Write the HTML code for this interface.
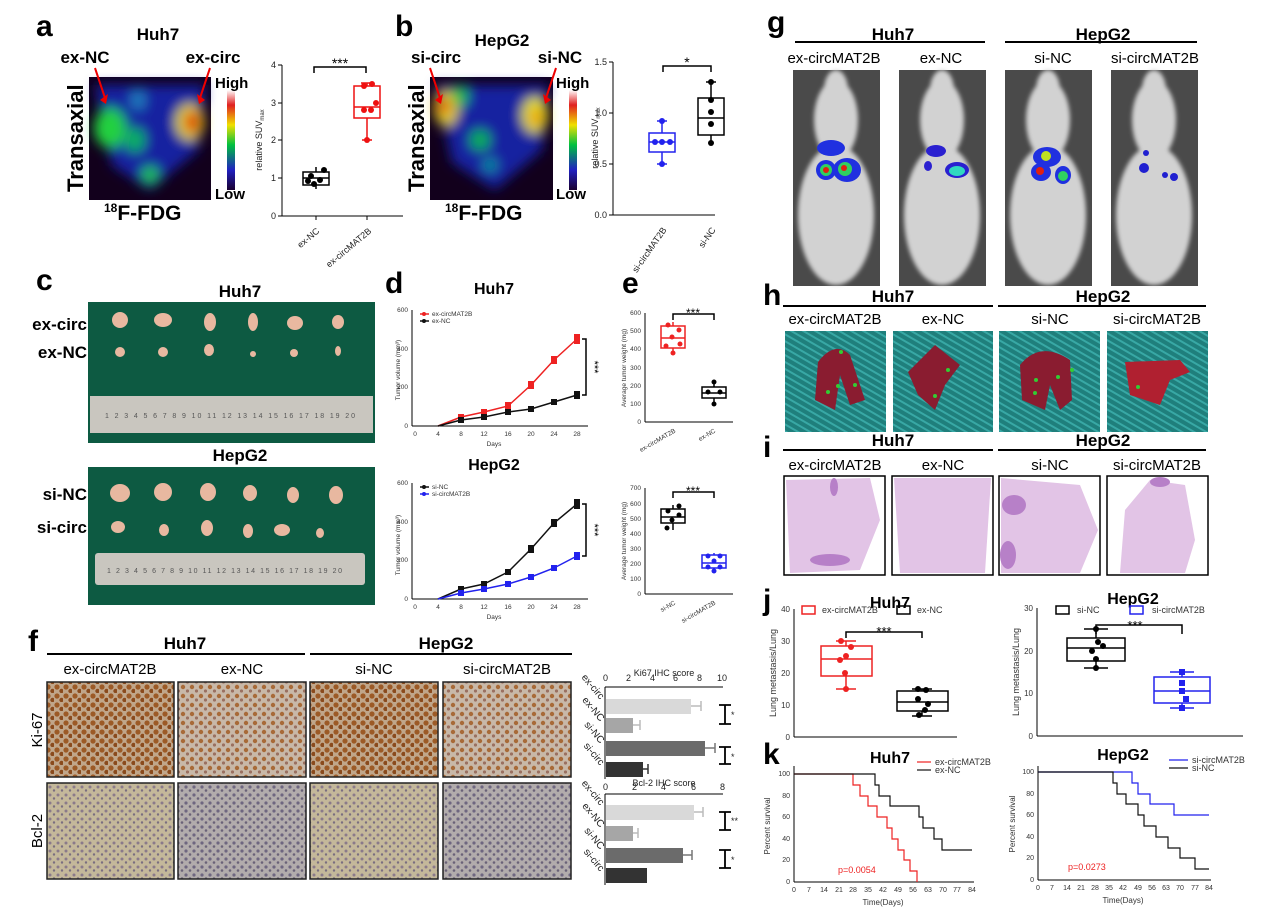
<!DOCTYPE html>
<html><head><meta charset="utf-8"><style>
html,body{margin:0;padding:0;background:#fff;}
svg{display:block;font-family:"Liberation Sans",Arial,sans-serif;}
.b{font-weight:bold;}
</style></head><body>
<svg width="1269" height="917" viewBox="0 0 1269 917" xmlns="http://www.w3.org/2000/svg">
<defs>
<filter id="bl" x="-20%" y="-20%" width="140%" height="140%"><feGaussianBlur stdDeviation="6"/></filter>
<filter id="bl2"><feGaussianBlur stdDeviation="2"/></filter>
<linearGradient id="cb" x1="0" y1="1" x2="0" y2="0">
<stop offset="0" stop-color="#1a0030"/><stop offset="0.2" stop-color="#2020c0"/><stop offset="0.45" stop-color="#00c040"/><stop offset="0.65" stop-color="#f0e000"/><stop offset="0.85" stop-color="#e02020"/><stop offset="1" stop-color="#fff"/></linearGradient>
<pattern id="ki" width="9" height="9" patternUnits="userSpaceOnUse"><rect width="9" height="9" fill="#c0a68a"/><circle cx="3" cy="3" r="2.6" fill="#9c5a26"/><circle cx="7.5" cy="7" r="2.2" fill="#8a4a1c"/></pattern>
<pattern id="kil" width="9" height="9" patternUnits="userSpaceOnUse"><rect width="9" height="9" fill="#c8b8a8"/><circle cx="3" cy="3" r="2.2" fill="#a86a38"/><circle cx="7.5" cy="7" r="1.6" fill="#9a7060"/></pattern>
<pattern id="bc" width="8" height="8" patternUnits="userSpaceOnUse"><rect width="8" height="8" fill="#c4b89a"/><circle cx="2" cy="3" r="1.5" fill="#8a7a8a"/><circle cx="6" cy="6.5" r="1.2" fill="#7a6e80"/></pattern>
<pattern id="bcb" width="8" height="8" patternUnits="userSpaceOnUse"><rect width="8" height="8" fill="#b2acac"/><circle cx="2" cy="3" r="1.6" fill="#6e6680"/><circle cx="6" cy="6.5" r="1.3" fill="#6a6278"/></pattern>
<pattern id="cloth" width="6" height="6" patternUnits="userSpaceOnUse" patternTransform="rotate(-60)"><rect width="6" height="6" fill="#1f7f7c"/><rect width="2" height="6" fill="#38a8a5"/></pattern>
</defs>

<!-- ===== a ===== -->
<text x="36" y="36" font-size="30" class="b">a</text>
<text x="158" y="40" font-size="17" class="b" text-anchor="middle">Huh7</text>
<text x="85" y="63" font-size="17" class="b" text-anchor="middle">ex-NC</text>
<text x="213" y="63" font-size="17" class="b" text-anchor="middle">ex-circ</text>
<g>
<rect x="89" y="77" width="122" height="123" fill="#12001c"/>
<g filter="url(#bl)">
<path d="M95 85 L205 85 L198 150 L150 190 L112 165 Z" fill="#1420a0"/>
<ellipse cx="110" cy="128" rx="16" ry="20" fill="#20d040"/>
<ellipse cx="135" cy="140" rx="10" ry="12" fill="#10b060"/>
<ellipse cx="150" cy="175" rx="9" ry="9" fill="#20c050"/>
<ellipse cx="138" cy="100" rx="7" ry="10" fill="#2080c0"/>
<ellipse cx="190" cy="122" rx="14" ry="18" fill="#e0e020"/>
<ellipse cx="192" cy="122" rx="8" ry="12" fill="#e02010"/>
</g></g>
<line x1="95" y1="68" x2="105" y2="98" stroke="#e00" stroke-width="2"/><path d="M100 100 L106 104 L108 94 Z" fill="#e00"/>
<line x1="210" y1="68" x2="200" y2="98" stroke="#e00" stroke-width="2"/><path d="M205 100 L199 104 L197 94 Z" fill="#e00"/>
<text x="83" y="192" font-size="22" class="b" transform="rotate(-90 83 192)" >Transaxial</text>
<rect x="227" y="90" width="8" height="100" fill="url(#cb)"/>
<text x="215" y="88" font-size="15" class="b">High</text>
<text x="215" y="199" font-size="15" class="b">Low</text>
<text x="104" y="220" font-size="21" class="b"><tspan font-size="12" dy="-8">18</tspan><tspan dy="8">F-FDG</tspan></text>
<!-- a box -->
<g font-size="9" fill="#222">
<line x1="282" y1="65" x2="282" y2="216" stroke="#000"/>
<line x1="282" y1="216" x2="403" y2="216" stroke="#000"/>
<g stroke="#000"><line x1="278" y1="65" x2="282" y2="65"/><line x1="278" y1="103" x2="282" y2="103"/><line x1="278" y1="140" x2="282" y2="140"/><line x1="278" y1="178" x2="282" y2="178"/><line x1="278" y1="216" x2="282" y2="216"/><line x1="316" y1="216" x2="316" y2="220"/><line x1="367" y1="216" x2="367" y2="220"/></g>
<text x="276" y="68" text-anchor="end">4</text><text x="276" y="106" text-anchor="end">3</text><text x="276" y="143" text-anchor="end">2</text><text x="276" y="181" text-anchor="end">1</text><text x="276" y="219" text-anchor="end">0</text>
<text x="262" y="140" font-size="9" transform="rotate(-90 262 140)" text-anchor="middle">relative SUV<tspan font-size="6" dy="2">max</tspan></text>
<text x="320" y="232" transform="rotate(-40 320 232)" text-anchor="end">ex-NC</text>
<text x="372" y="232" transform="rotate(-40 372 232)" text-anchor="end">ex-circMAT2B</text>
</g>
<g stroke="#000" stroke-width="1.5" fill="none"><rect x="303" y="172" width="26" height="13"/><line x1="303" y1="178" x2="329" y2="178"/><line x1="316" y1="167" x2="316" y2="172"/><line x1="316" y1="185" x2="316" y2="189"/></g>
<g fill="#000"><circle cx="311" cy="176" r="3"/><circle cx="320" cy="180" r="3"/><circle cx="314" cy="184" r="3"/><circle cx="324" cy="170" r="3"/><circle cx="308" cy="181" r="3"/></g>
<g stroke="#e11" stroke-width="1.5" fill="none"><rect x="354" y="86" width="26" height="32"/><line x1="354" y1="107" x2="380" y2="107"/><line x1="367" y1="83" x2="367" y2="86"/><line x1="367" y1="118" x2="367" y2="140"/><line x1="362" y1="140" x2="372" y2="140"/><line x1="361" y1="83" x2="373" y2="83"/></g>
<g fill="#e11"><circle cx="364" cy="86" r="3"/><circle cx="372" cy="84" r="3"/><circle cx="364" cy="110" r="3"/><circle cx="371" cy="110" r="3"/><circle cx="376" cy="103" r="3"/><circle cx="367" cy="140" r="3"/></g>
<path d="M314 73 V67 H366 V73" stroke="#000" stroke-width="1.5" fill="none"/>
<text x="340" y="68" font-size="14" text-anchor="middle">***</text>

<!-- ===== b ===== -->
<text x="395" y="36" font-size="30" class="b">b</text>
<text x="502" y="46" font-size="17" class="b" text-anchor="middle">HepG2</text>
<text x="436" y="63" font-size="17" class="b" text-anchor="middle">si-circ</text>
<text x="560" y="63" font-size="17" class="b" text-anchor="middle">si-NC</text>
<rect x="430" y="77" width="123" height="123" fill="#12001c"/>
<g filter="url(#bl)">
<path d="M436 85 L548 85 L542 150 L495 190 L452 162 Z" fill="#1420a0"/>
<ellipse cx="446" cy="108" rx="12" ry="18" fill="#e0d020"/>
<ellipse cx="444" cy="106" rx="6" ry="8" fill="#e02010"/>
<ellipse cx="460" cy="96" rx="8" ry="10" fill="#20c040"/>
<ellipse cx="480" cy="140" rx="10" ry="10" fill="#10b050"/>
<ellipse cx="490" cy="165" rx="7" ry="7" fill="#1090a0"/>
<ellipse cx="535" cy="115" rx="13" ry="18" fill="#e0e020"/>
<ellipse cx="536" cy="117" rx="5" ry="9" fill="#f08010"/>
</g>
<line x1="430" y1="68" x2="440" y2="98" stroke="#e00" stroke-width="2"/><path d="M435 100 L441 104 L443 94 Z" fill="#e00"/>
<line x1="556" y1="68" x2="546" y2="98" stroke="#e00" stroke-width="2"/><path d="M551 100 L545 104 L543 94 Z" fill="#e00"/>
<text x="424" y="192" font-size="22" class="b" transform="rotate(-90 424 192)">Transaxial</text>
<rect x="569" y="90" width="8" height="100" fill="url(#cb)"/>
<text x="556" y="88" font-size="15" class="b">High</text>
<text x="556" y="199" font-size="15" class="b">Low</text>
<text x="445" y="220" font-size="21" class="b"><tspan font-size="12" dy="-8">18</tspan><tspan dy="8">F-FDG</tspan></text>
<g font-size="9" fill="#222">
<line x1="613" y1="62" x2="613" y2="215" stroke="#000"/><line x1="613" y1="215" x2="715" y2="215" stroke="#000"/>
<g stroke="#000"><line x1="609" y1="62" x2="613" y2="62"/><line x1="609" y1="113" x2="613" y2="113"/><line x1="609" y1="164" x2="613" y2="164"/><line x1="609" y1="215" x2="613" y2="215"/></g>
<text x="607" y="65" text-anchor="end">1.5</text><text x="607" y="116" text-anchor="end">1.0</text><text x="607" y="167" text-anchor="end">0.5</text><text x="607" y="218" text-anchor="end">0.0</text>
<text x="598" y="138" transform="rotate(-90 598 138)" text-anchor="middle">relative SUV<tspan font-size="6" dy="2">max</tspan></text>
<text x="667" y="230" transform="rotate(-55 667 230)" text-anchor="end">si-circMAT2B</text>
<text x="716" y="230" transform="rotate(-55 716 230)" text-anchor="end">si-NC</text>
</g>
<g stroke="#22e" stroke-width="1.5" fill="none"><rect x="649" y="133" width="26" height="19"/><line x1="649" y1="142" x2="675" y2="142"/><line x1="662" y1="121" x2="662" y2="133"/><line x1="662" y1="152" x2="662" y2="164"/><line x1="657" y1="121" x2="667" y2="121"/><line x1="657" y1="164" x2="667" y2="164"/></g>
<g fill="#22e"><circle cx="655" cy="142" r="3"/><circle cx="662" cy="142" r="3"/><circle cx="670" cy="142" r="3"/><circle cx="662" cy="121" r="3"/><circle cx="662" cy="164" r="3"/></g>
<g stroke="#000" stroke-width="1.5" fill="none"><rect x="698" y="98" width="26" height="37"/><line x1="698" y1="118" x2="724" y2="118"/><line x1="711" y1="82" x2="711" y2="98"/><line x1="711" y1="135" x2="711" y2="143"/><line x1="706" y1="82" x2="716" y2="82"/></g>
<g fill="#000"><circle cx="711" cy="82" r="3"/><circle cx="711" cy="100" r="3"/><circle cx="711" cy="112" r="3"/><circle cx="711" cy="124" r="3"/><circle cx="711" cy="143" r="3"/></g>
<path d="M663 72 V66 H711 V72" stroke="#000" stroke-width="1.5" fill="none"/>
<text x="687" y="67" font-size="14" text-anchor="middle">*</text>

<!-- ===== g ===== -->
<text x="767" y="32" font-size="30" class="b">g</text>
<line x1="795" y1="42" x2="985" y2="42" stroke="#000" stroke-width="2"/>
<line x1="1005" y1="42" x2="1197" y2="42" stroke="#000" stroke-width="2"/>
<text x="893" y="40" font-size="17" class="b" text-anchor="middle">Huh7</text>
<text x="1103" y="40" font-size="17" class="b" text-anchor="middle">HepG2</text>
<g font-size="15" text-anchor="middle">
<text x="834" y="63">ex-circMAT2B</text><text x="941" y="63">ex-NC</text><text x="1053" y="63">si-NC</text><text x="1155" y="63">si-circMAT2B</text></g>
<g id="mice">
<rect x="793" y="70" width="87" height="216" fill="#4a4a4a"/>
<rect x="899" y="70" width="87" height="216" fill="#4a4a4a"/>
<rect x="1005" y="70" width="87" height="216" fill="#4a4a4a"/>
<rect x="1111" y="70" width="87" height="216" fill="#4a4a4a"/>
<g fill="#d2d2d2" filter="url(#bl2)">
<ellipse cx="836" cy="215" rx="38" ry="70"/><ellipse cx="836" cy="120" rx="22" ry="40"/><ellipse cx="836" cy="90" rx="12" ry="20"/>
<ellipse cx="942" cy="215" rx="38" ry="70"/><ellipse cx="942" cy="120" rx="22" ry="40"/><ellipse cx="942" cy="90" rx="12" ry="20"/>
<ellipse cx="1048" cy="215" rx="38" ry="70"/><ellipse cx="1048" cy="120" rx="22" ry="40"/><ellipse cx="1048" cy="90" rx="12" ry="20"/>
<ellipse cx="1154" cy="215" rx="38" ry="70"/><ellipse cx="1154" cy="120" rx="22" ry="40"/><ellipse cx="1154" cy="90" rx="12" ry="20"/>
</g>
<g>
<ellipse cx="831" cy="148" rx="14" ry="8" fill="#2030e0"/><ellipse cx="826" cy="170" rx="10" ry="10" fill="#2030e0"/><ellipse cx="847" cy="170" rx="14" ry="12" fill="#2030e0"/>
<circle cx="826" cy="170" r="6" fill="#30d060"/><circle cx="826" cy="170" r="3" fill="#e02010"/><circle cx="845" cy="169" r="7" fill="#30d060"/><circle cx="844" cy="168" r="3" fill="#e02010"/>
<ellipse cx="936" cy="151" rx="10" ry="6" fill="#2a20d0"/><ellipse cx="957" cy="170" rx="12" ry="8" fill="#2a20d0"/><ellipse cx="957" cy="171" rx="8" ry="5" fill="#30d8c0"/><ellipse cx="928" cy="166" rx="4" ry="5" fill="#2a20d0"/>
<ellipse cx="1047" cy="157" rx="14" ry="10" fill="#2030e0"/><ellipse cx="1041" cy="172" rx="10" ry="9" fill="#2030e0"/><ellipse cx="1063" cy="175" rx="8" ry="9" fill="#2030e0"/>
<circle cx="1046" cy="156" r="5" fill="#c0e020"/><circle cx="1040" cy="171" r="4" fill="#e02010"/><circle cx="1063" cy="176" r="5" fill="#30d060"/>
<circle cx="1144" cy="168" r="5" fill="#2020d0"/><circle cx="1146" cy="153" r="3" fill="#2020d0"/><circle cx="1165" cy="175" r="3" fill="#2020d0"/><circle cx="1174" cy="177" r="4" fill="#2020d0"/>
</g></g>

<!-- ===== h ===== -->
<text x="763" y="305" font-size="30" class="b">h</text>
<line x1="783" y1="306" x2="993" y2="306" stroke="#000" stroke-width="2"/>
<line x1="998" y1="306" x2="1206" y2="306" stroke="#000" stroke-width="2"/>
<text x="893" y="302" font-size="17" class="b" text-anchor="middle">Huh7</text>
<text x="1103" y="302" font-size="17" class="b" text-anchor="middle">HepG2</text>
<g font-size="15" text-anchor="middle">
<text x="835" y="324">ex-circMAT2B</text><text x="943" y="324">ex-NC</text><text x="1050" y="324">si-NC</text><text x="1157" y="324">si-circMAT2B</text></g>
<rect x="785" y="331" width="101" height="101" fill="url(#cloth)"/>
<rect x="893" y="331" width="100" height="101" fill="url(#cloth)"/>
<rect x="999" y="331" width="101" height="101" fill="url(#cloth)"/>
<rect x="1107" y="331" width="101" height="101" fill="url(#cloth)"/>
<g fill="#8a1c30">
<path d="M818 362 Q835 340 850 355 L865 400 L850 405 L840 375 L835 410 L815 400 Z"/>
<path d="M908 372 L935 345 L960 365 L945 385 L935 410 L918 395 Z"/>
<path d="M1020 365 Q1040 340 1070 360 L1072 400 L1060 410 L1050 385 L1045 410 L1022 400 Z"/>
<path d="M1125 362 L1180 360 L1190 372 L1170 380 L1160 405 L1130 395 Z" fill="#b02030"/>
</g>
<g fill="#3c3"><circle cx="841" cy="352" r="2"/><circle cx="838" cy="386" r="2"/><circle cx="855" cy="385" r="2"/><circle cx="828" cy="392" r="2"/><circle cx="948" cy="370" r="2"/><circle cx="935" cy="396" r="2"/><circle cx="1036" cy="380" r="2"/><circle cx="1058" cy="377" r="2"/><circle cx="1072" cy="370" r="2"/><circle cx="1035" cy="393" r="2"/><circle cx="1138" cy="387" r="2"/></g>

<!-- ===== i ===== -->
<text x="763" y="457" font-size="30" class="b">i</text>
<line x1="783" y1="450" x2="993" y2="450" stroke="#000" stroke-width="2"/>
<line x1="998" y1="450" x2="1206" y2="450" stroke="#000" stroke-width="2"/>
<text x="893" y="446" font-size="17" class="b" text-anchor="middle">Huh7</text>
<text x="1103" y="446" font-size="17" class="b" text-anchor="middle">HepG2</text>
<g font-size="15" text-anchor="middle">
<text x="835" y="470">ex-circMAT2B</text><text x="943" y="470">ex-NC</text><text x="1050" y="470">si-NC</text><text x="1157" y="470">si-circMAT2B</text></g>
<g stroke="#000" stroke-width="1.5">
<rect x="784" y="476" width="101" height="99" fill="#fff"/>
<rect x="892" y="476" width="101" height="99" fill="#fff"/>
<rect x="999" y="476" width="101" height="99" fill="#fff"/>
<rect x="1107" y="476" width="101" height="99" fill="#fff"/></g>
<g fill="#e2c4e6">
<path d="M786 480 L870 478 L880 520 L860 570 L790 573 Z"/>
<path d="M894 478 L991 478 L985 573 L900 573 Z"/>
<path d="M1001 478 L1080 485 L1098 530 L1080 573 L1001 573 Z"/>
<path d="M1150 480 L1185 485 L1195 540 L1185 573 L1120 573 L1125 510 Z"/>
</g>
<g fill="#b780c8"><ellipse cx="834" cy="487" rx="4" ry="9"/><ellipse cx="1014" cy="505" rx="12" ry="10"/><ellipse cx="1008" cy="555" rx="8" ry="14"/><ellipse cx="1160" cy="482" rx="10" ry="5"/><ellipse cx="830" cy="560" rx="20" ry="6"/></g>

<!-- ===== c ===== -->
<text x="36" y="290" font-size="30" class="b">c</text>
<text x="240" y="297" font-size="17" class="b" text-anchor="middle">Huh7</text>
<text x="240" y="461" font-size="17" class="b" text-anchor="middle">HepG2</text>
<g font-size="17" class="b" text-anchor="end">
<text x="87" y="330">ex-circ</text><text x="87" y="358">ex-NC</text><text x="87" y="500">si-NC</text><text x="87" y="533">si-circ</text></g>
<rect x="88" y="302" width="287" height="141" fill="#0d5a42"/>
<rect x="90" y="396" width="283" height="37" fill="#c9c6bf"/>
<rect x="88" y="467" width="287" height="138" fill="#0d5a42"/>
<rect x="95" y="553" width="270" height="32" fill="#c9c6bf" rx="3"/>
<g font-size="7" fill="#555"><text x="105" y="418" textLength="250" lengthAdjust="spacing">1 2 3 4 5 6 7 8 9 10 11 12 13 14 15 16 17 18 19 20</text>
<text x="107" y="573" textLength="235" lengthAdjust="spacing">1 2 3 4 5 6 7 8 9 10 11 12 13 14 15 16 17 18 19 20</text></g>
<g fill="#e8b8a0">
<ellipse cx="120" cy="320" rx="8" ry="8"/><ellipse cx="163" cy="320" rx="9" ry="7"/><ellipse cx="210" cy="322" rx="6" ry="9"/><ellipse cx="253" cy="322" rx="5" ry="9"/><ellipse cx="295" cy="323" rx="8" ry="7"/><ellipse cx="338" cy="322" rx="6" ry="7"/>
<ellipse cx="120" cy="352" rx="5" ry="5"/><ellipse cx="163" cy="352" rx="5" ry="5"/><ellipse cx="209" cy="350" rx="5" ry="6"/><ellipse cx="253" cy="354" rx="3" ry="3"/><ellipse cx="294" cy="353" rx="4" ry="4"/><ellipse cx="338" cy="351" rx="3" ry="5"/>
<ellipse cx="120" cy="493" rx="10" ry="9"/><ellipse cx="163" cy="492" rx="9" ry="9"/><ellipse cx="208" cy="492" rx="8" ry="9"/><ellipse cx="250" cy="493" rx="7" ry="8"/><ellipse cx="293" cy="495" rx="6" ry="8"/><ellipse cx="336" cy="495" rx="7" ry="9"/>
<ellipse cx="118" cy="527" rx="7" ry="6"/><ellipse cx="164" cy="530" rx="5" ry="6"/><ellipse cx="207" cy="528" rx="6" ry="8"/><ellipse cx="248" cy="531" rx="5" ry="7"/><ellipse cx="282" cy="530" rx="8" ry="6"/><ellipse cx="320" cy="533" rx="4" ry="5"/>
</g>

<!-- ===== d ===== -->
<text x="385" y="293" font-size="30" class="b">d</text>
<text x="494" y="294" font-size="16" class="b" text-anchor="middle">Huh7</text>
<text x="494" y="470" font-size="16" class="b" text-anchor="middle">HepG2</text>
<g font-size="6.5" fill="#333">
<line x1="412" y1="310" x2="412" y2="426" stroke="#000"/><line x1="412" y1="426" x2="588" y2="426" stroke="#000"/>
<text x="408" y="312" text-anchor="end">600</text><text x="408" y="351" text-anchor="end">400</text><text x="408" y="389" text-anchor="end">200</text><text x="408" y="428" text-anchor="end">0</text>
<text x="415" y="436" text-anchor="middle">0</text><text x="438" y="436" text-anchor="middle">4</text><text x="461" y="436" text-anchor="middle">8</text><text x="484" y="436" text-anchor="middle">12</text><text x="508" y="436" text-anchor="middle">16</text><text x="531" y="436" text-anchor="middle">20</text><text x="554" y="436" text-anchor="middle">24</text><text x="577" y="436" text-anchor="middle">28</text>
<text x="494" y="446" text-anchor="middle">Days</text>
<text x="400" y="370" transform="rotate(-90 400 370)" text-anchor="middle">Tumor volume (mm³)</text>
<line x1="412" y1="483" x2="412" y2="599" stroke="#000"/><line x1="412" y1="599" x2="588" y2="599" stroke="#000"/>
<text x="408" y="485" text-anchor="end">600</text><text x="408" y="524" text-anchor="end">400</text><text x="408" y="562" text-anchor="end">200</text><text x="408" y="601" text-anchor="end">0</text>
<text x="415" y="609" text-anchor="middle">0</text><text x="438" y="609" text-anchor="middle">4</text><text x="461" y="609" text-anchor="middle">8</text><text x="484" y="609" text-anchor="middle">12</text><text x="508" y="609" text-anchor="middle">16</text><text x="531" y="609" text-anchor="middle">20</text><text x="554" y="609" text-anchor="middle">24</text><text x="577" y="609" text-anchor="middle">28</text>
<text x="494" y="619" text-anchor="middle">Days</text>
<text x="400" y="545" transform="rotate(-90 400 545)" text-anchor="middle">Tumor volume (mm³)</text>
<text x="432" y="316">ex-circMAT2B</text><text x="432" y="323">ex-NC</text>
<text x="432" y="489">si-NC</text><text x="432" y="496">si-circMAT2B</text>
</g>
<line x1="420" y1="314" x2="429" y2="314" stroke="#e22" stroke-width="1.5"/><circle cx="424" cy="314" r="2" fill="#e22"/>
<line x1="420" y1="321" x2="429" y2="321" stroke="#111" stroke-width="1.5"/><circle cx="424" cy="321" r="2" fill="#111"/>
<line x1="420" y1="487" x2="429" y2="487" stroke="#111" stroke-width="1.5"/><circle cx="424" cy="487" r="2" fill="#111"/>
<line x1="420" y1="494" x2="429" y2="494" stroke="#22e" stroke-width="1.5"/><circle cx="424" cy="494" r="2" fill="#22e"/>
<g fill="none" stroke-width="1.5">
<polyline stroke="#e22" points="438,426 461,417 484,412 508,406 531,385 554,360 577,339"/>
<polyline stroke="#111" points="438,426 461,420 484,417 508,412 531,409 554,402 577,395"/>
<polyline stroke="#111" points="438,599 461,589 484,584 508,572 531,549 554,523 577,504"/>
<polyline stroke="#22e" points="438,599 461,593 484,589 508,584 531,577 554,568 577,556"/>
</g>
<g fill="#e22"><rect x="458" y="414" width="6" height="6"/><rect x="481" y="409" width="6" height="6"/><rect x="505" y="402" width="6" height="7"/><rect x="528" y="381" width="6" height="8"/><rect x="551" y="356" width="6" height="8"/><rect x="574" y="334" width="6" height="10"/></g>
<g fill="#111"><rect x="458" y="417" width="6" height="6"/><rect x="481" y="414" width="6" height="6"/><rect x="505" y="409" width="6" height="6"/><rect x="528" y="406" width="6" height="6"/><rect x="551" y="399" width="6" height="6"/><rect x="574" y="391" width="6" height="8"/>
<rect x="458" y="586" width="6" height="6"/><rect x="481" y="581" width="6" height="6"/><rect x="505" y="569" width="6" height="6"/><rect x="528" y="545" width="6" height="8"/><rect x="551" y="519" width="6" height="8"/><rect x="574" y="499" width="6" height="10"/></g>
<g fill="#22e"><rect x="458" y="590" width="6" height="6"/><rect x="481" y="586" width="6" height="6"/><rect x="505" y="581" width="6" height="6"/><rect x="528" y="574" width="6" height="6"/><rect x="551" y="565" width="6" height="6"/><rect x="574" y="552" width="6" height="8"/></g>
<g stroke="#000" stroke-width="1.5" fill="none"><path d="M582 339 H586 V395 H582"/><path d="M582 504 H586 V556 H582"/></g>
<text x="591" y="367" font-size="11" transform="rotate(90 591 367)" text-anchor="middle">***</text>
<text x="591" y="530" font-size="11" transform="rotate(90 591 530)" text-anchor="middle">***</text>

<!-- ===== e ===== -->
<text x="622" y="293" font-size="30" class="b">e</text>
<g font-size="6.5" fill="#333">
<line x1="645" y1="313" x2="645" y2="422" stroke="#000"/><line x1="645" y1="422" x2="733" y2="422" stroke="#000"/>
<text x="641" y="315" text-anchor="end">600</text><text x="641" y="333" text-anchor="end">500</text><text x="641" y="351" text-anchor="end">400</text><text x="641" y="370" text-anchor="end">300</text><text x="641" y="388" text-anchor="end">200</text><text x="641" y="406" text-anchor="end">100</text><text x="641" y="424" text-anchor="end">0</text>
<text x="626" y="368" transform="rotate(-90 626 368)" text-anchor="middle">Average tumor weight (mg)</text>
<text x="676" y="432" transform="rotate(-30 676 432)" text-anchor="end">ex-circMAT2B</text><text x="716" y="432" transform="rotate(-30 716 432)" text-anchor="end">ex-NC</text>
<line x1="645" y1="488" x2="645" y2="594" stroke="#000"/><line x1="645" y1="594" x2="733" y2="594" stroke="#000"/>
<text x="641" y="490" text-anchor="end">700</text><text x="641" y="506" text-anchor="end">600</text><text x="641" y="521" text-anchor="end">500</text><text x="641" y="536" text-anchor="end">400</text><text x="641" y="551" text-anchor="end">300</text><text x="641" y="566" text-anchor="end">200</text><text x="641" y="581" text-anchor="end">100</text><text x="641" y="596" text-anchor="end">0</text>
<text x="626" y="541" transform="rotate(-90 626 541)" text-anchor="middle">Average tumor weight (mg)</text>
<text x="676" y="604" transform="rotate(-30 676 604)" text-anchor="end">si-NC</text><text x="716" y="604" transform="rotate(-30 716 604)" text-anchor="end">si-circMAT2B</text>
</g>
<g stroke="#e22" stroke-width="1.5" fill="none"><rect x="661" y="326" width="24" height="22"/><line x1="661" y1="338" x2="685" y2="338"/><line x1="673" y1="322" x2="673" y2="326"/><line x1="673" y1="348" x2="673" y2="354"/></g>
<g fill="#e22"><circle cx="668" cy="325" r="2.5"/><circle cx="679" cy="330" r="2.5"/><circle cx="672" cy="337" r="2.5"/><circle cx="666" cy="346" r="2.5"/><circle cx="680" cy="344" r="2.5"/><circle cx="673" cy="353" r="2.5"/></g>
<g stroke="#000" stroke-width="1.5" fill="none"><rect x="702" y="387" width="24" height="11"/><line x1="702" y1="393" x2="726" y2="393"/><line x1="714" y1="382" x2="714" y2="387"/><line x1="714" y1="398" x2="714" y2="405"/></g>
<g fill="#000"><circle cx="714" cy="382" r="2.5"/><circle cx="708" cy="392" r="2.5"/><circle cx="720" cy="392" r="2.5"/><circle cx="714" cy="404" r="2.5"/></g>
<path d="M673 320 V314 H714 V320" stroke="#000" stroke-width="1.5" fill="none"/><text x="693" y="317" font-size="12" text-anchor="middle">***</text>
<g stroke="#000" stroke-width="1.5" fill="none"><rect x="661" y="509" width="24" height="14"/><line x1="661" y1="517" x2="685" y2="517"/><line x1="673" y1="505" x2="673" y2="509"/><line x1="673" y1="523" x2="673" y2="530"/></g>
<g fill="#000"><circle cx="668" cy="511" r="2.5"/><circle cx="679" cy="515" r="2.5"/><circle cx="672" cy="520" r="2.5"/><circle cx="667" cy="528" r="2.5"/><circle cx="679" cy="506" r="2.5"/></g>
<g stroke="#22e" stroke-width="1.5" fill="none"><rect x="702" y="555" width="24" height="13"/><line x1="702" y1="563" x2="726" y2="563"/><line x1="714" y1="553" x2="714" y2="555"/><line x1="714" y1="568" x2="714" y2="571"/></g>
<g fill="#22e"><circle cx="708" cy="556" r="2.5"/><circle cx="720" cy="556" r="2.5"/><circle cx="714" cy="561" r="2.5"/><circle cx="708" cy="567" r="2.5"/><circle cx="720" cy="567" r="2.5"/><circle cx="714" cy="571" r="2.5"/></g>
<path d="M673 498 V492 H714 V498" stroke="#000" stroke-width="1.5" fill="none"/><text x="693" y="495" font-size="12" text-anchor="middle">***</text>

<!-- ===== f ===== -->
<text x="28" y="651" font-size="30" class="b">f</text>
<line x1="47" y1="654" x2="305" y2="654" stroke="#000" stroke-width="2"/>
<line x1="310" y1="654" x2="572" y2="654" stroke="#000" stroke-width="2"/>
<text x="185" y="649" font-size="17" class="b" text-anchor="middle">Huh7</text>
<text x="446" y="649" font-size="17" class="b" text-anchor="middle">HepG2</text>
<g font-size="15" text-anchor="middle">
<text x="110" y="674">ex-circMAT2B</text><text x="242" y="674">ex-NC</text><text x="374" y="674">si-NC</text><text x="507" y="674">si-circMAT2B</text></g>
<text x="42" y="730" font-size="15" transform="rotate(-90 42 730)" text-anchor="middle">Ki-67</text>
<text x="42" y="831" font-size="15" transform="rotate(-90 42 831)" text-anchor="middle">Bcl-2</text>
<g stroke="#222" stroke-width="1.5">
<rect x="47" y="682" width="127" height="95" fill="url(#ki)"/>
<rect x="178" y="682" width="128" height="95" fill="url(#kil)"/>
<rect x="310" y="682" width="128" height="95" fill="url(#ki)"/>
<rect x="443" y="682" width="128" height="95" fill="url(#kil)"/>
<rect x="47" y="783" width="127" height="96" fill="url(#bc)"/>
<rect x="178" y="783" width="128" height="96" fill="url(#bcb)"/>
<rect x="310" y="783" width="128" height="96" fill="url(#bc)"/>
<rect x="443" y="783" width="128" height="96" fill="url(#bcb)"/>
</g>
<!-- f bars -->
<g font-size="9" fill="#222">
<text x="664" y="676" text-anchor="middle">Ki67 IHC score</text>
<line x1="605" y1="687" x2="723" y2="687" stroke="#000"/>
<line x1="605" y1="687" x2="605" y2="779" stroke="#000"/>
<text x="603" y="681">0</text><text x="626" y="681">2</text><text x="650" y="681">4</text><text x="673" y="681">6</text><text x="697" y="681">8</text><text x="717" y="681">10</text>
<g font-size="10" text-anchor="end">
<text x="600" y="700" transform="rotate(50 600 700)" >ex-circ</text>
<text x="600" y="722" transform="rotate(50 600 722)">ex-NC</text>
<text x="600" y="744" transform="rotate(50 600 744)">si-NC</text>
<text x="600" y="766" transform="rotate(50 600 766)">si-circ</text>
</g>
<rect x="606" y="699" width="85" height="15" fill="#d9d9d9"/>
<rect x="606" y="718" width="27" height="15" fill="#a6a6a6"/>
<rect x="606" y="741" width="99" height="15" fill="#6b6b6b"/>
<rect x="606" y="762" width="37" height="15" fill="#333"/>
<g stroke="#bbb" stroke-width="1.5"><path d="M691 706 H701 M701 701 V711"/><path d="M633 725 H640 M640 720 V730"/></g>
<g stroke="#777" stroke-width="1.5"><path d="M705 748 H715 M715 743 V753"/></g>
<g stroke="#333" stroke-width="1.5"><path d="M643 769 H648 M648 764 V774"/></g>
<g stroke="#000" stroke-width="1.8" fill="none"><path d="M719 705 H731 M725 705 V724 M719 724 H731"/><path d="M719 747 H731 M725 747 V764 M719 764 H731"/></g>
<text x="731" y="718">*</text><text x="731" y="760">*</text>

<text x="664" y="786" text-anchor="middle">Bcl-2 IHC score</text>
<line x1="605" y1="794" x2="723" y2="794" stroke="#000"/>
<line x1="605" y1="794" x2="605" y2="885" stroke="#000"/>
<text x="603" y="790">0</text><text x="632" y="790">2</text><text x="661" y="790">4</text><text x="691" y="790">6</text><text x="720" y="790">8</text>
<g font-size="10" text-anchor="end">
<text x="600" y="806" transform="rotate(50 600 806)">ex-circ</text>
<text x="600" y="828" transform="rotate(50 600 828)">ex-NC</text>
<text x="600" y="850" transform="rotate(50 600 850)">si-NC</text>
<text x="600" y="872" transform="rotate(50 600 872)">si-circ</text>
</g>
<rect x="606" y="805" width="88" height="15" fill="#d9d9d9"/>
<rect x="606" y="826" width="27" height="15" fill="#a6a6a6"/>
<rect x="606" y="848" width="77" height="15" fill="#6b6b6b"/>
<rect x="606" y="868" width="41" height="15" fill="#333"/>
<g stroke="#bbb" stroke-width="1.5"><path d="M694 812 H703 M703 807 V817"/><path d="M633 833 H638 M638 828 V838"/></g>
<g stroke="#777" stroke-width="1.5"><path d="M683 855 H692 M692 850 V860"/></g>
<g stroke="#000" stroke-width="1.8" fill="none"><path d="M719 812 H731 M725 812 V830 M719 830 H731"/><path d="M719 850 H731 M725 850 V868 M719 868 H731"/></g>
<text x="731" y="824">**</text><text x="731" y="863">*</text>
</g>

<!-- ===== j ===== -->
<text x="763" y="610" font-size="30" class="b">j</text>
<text x="890" y="608" font-size="16" class="b" text-anchor="middle">Huh7</text>
<text x="1133" y="604" font-size="16" class="b" text-anchor="middle">HepG2</text>
<g font-size="8" fill="#333">
<line x1="794" y1="609" x2="794" y2="737" stroke="#000"/><line x1="794" y1="737" x2="957" y2="737" stroke="#000"/>
<text x="790" y="612" text-anchor="end">40</text><text x="790" y="644" text-anchor="end">30</text><text x="790" y="676" text-anchor="end">20</text><text x="790" y="708" text-anchor="end">10</text><text x="790" y="740" text-anchor="end">0</text>
<text x="776" y="673" font-size="9" transform="rotate(-90 776 673)" text-anchor="middle">Lung metastasis/Lung</text>
<line x1="1037" y1="608" x2="1037" y2="736" stroke="#000"/><line x1="1037" y1="736" x2="1243" y2="736" stroke="#000"/>
<text x="1033" y="611" text-anchor="end">30</text><text x="1033" y="654" text-anchor="end">20</text><text x="1033" y="696" text-anchor="end">10</text><text x="1033" y="739" text-anchor="end">0</text>
<text x="1019" y="672" font-size="9" transform="rotate(-90 1019 672)" text-anchor="middle">Lung metastasis/Lung</text>
<rect x="802" y="606" width="13" height="8" fill="none" stroke="#e22" stroke-width="1.5"/><text x="822" y="613" font-size="9">ex-circMAT2B</text>
<rect x="897" y="606" width="13" height="8" fill="none" stroke="#000" stroke-width="1.5"/><text x="917" y="613" font-size="9">ex-NC</text>
<rect x="1056" y="606" width="13" height="8" fill="none" stroke="#000" stroke-width="1.5"/><text x="1077" y="613" font-size="9">si-NC</text>
<rect x="1130" y="606" width="13" height="8" fill="none" stroke="#22e" stroke-width="1.5"/><text x="1152" y="613" font-size="9">si-circMAT2B</text>
</g>
<g stroke="#e22" stroke-width="1.5" fill="none"><rect x="821" y="646" width="51" height="30"/><line x1="821" y1="659" x2="872" y2="659"/><line x1="846" y1="641" x2="846" y2="646"/><line x1="846" y1="676" x2="846" y2="689"/><line x1="836" y1="641" x2="856" y2="641"/><line x1="836" y1="689" x2="856" y2="689"/></g>
<g fill="#e22"><circle cx="841" cy="641" r="3"/><circle cx="851" cy="647" r="3"/><circle cx="846" cy="656" r="3"/><circle cx="840" cy="660" r="3"/><circle cx="845" cy="673" r="3"/><circle cx="846" cy="689" r="3"/></g>
<g stroke="#000" stroke-width="1.5" fill="none"><rect x="897" y="691" width="51" height="20"/><line x1="897" y1="702" x2="948" y2="702"/><line x1="922" y1="689" x2="922" y2="691"/><line x1="922" y1="711" x2="922" y2="716"/><line x1="912" y1="689" x2="932" y2="689"/><line x1="912" y1="716" x2="932" y2="716"/></g>
<g fill="#000"><circle cx="918" cy="689" r="3"/><circle cx="926" cy="690" r="3"/><circle cx="918" cy="699" r="3"/><circle cx="928" cy="704" r="3"/><circle cx="925" cy="710" r="3"/><circle cx="919" cy="715" r="3"/></g>
<path d="M846 638 V632 H922 V638" stroke="#000" stroke-width="1.5" fill="none"/><text x="884" y="636" font-size="13" text-anchor="middle">***</text>
<g stroke="#000" stroke-width="1.5" fill="none"><rect x="1067" y="638" width="58" height="23"/><line x1="1067" y1="648" x2="1125" y2="648"/><line x1="1096" y1="629" x2="1096" y2="638"/><line x1="1096" y1="661" x2="1096" y2="668"/><line x1="1084" y1="629" x2="1108" y2="629"/><line x1="1084" y1="668" x2="1108" y2="668"/></g>
<g fill="#000"><circle cx="1096" cy="629" r="3"/><circle cx="1098" cy="642" r="3"/><circle cx="1103" cy="646" r="3"/><circle cx="1092" cy="651" r="3"/><circle cx="1096" cy="659" r="3"/><circle cx="1096" cy="668" r="3"/></g>
<g stroke="#22e" stroke-width="1.5" fill="none"><rect x="1154" y="677" width="56" height="26"/><line x1="1154" y1="691" x2="1210" y2="691"/><line x1="1182" y1="672" x2="1182" y2="677"/><line x1="1182" y1="703" x2="1182" y2="708"/><line x1="1170" y1="672" x2="1194" y2="672"/><line x1="1170" y1="708" x2="1194" y2="708"/></g>
<g fill="#22e"><rect x="1179" y="669" width="6" height="6"/><rect x="1179" y="680" width="6" height="6"/><rect x="1179" y="688" width="6" height="6"/><rect x="1183" y="696" width="6" height="6"/><rect x="1179" y="705" width="6" height="6"/></g>
<path d="M1096 634 V625 H1182 V634" stroke="#000" stroke-width="1.5" fill="none"/><text x="1135" y="630" font-size="13" text-anchor="middle">***</text>

<!-- ===== k ===== -->
<text x="763" y="764" font-size="30" class="b">k</text>
<text x="890" y="763" font-size="16" class="b" text-anchor="middle">Huh7</text>
<text x="1123" y="760" font-size="16" class="b" text-anchor="middle">HepG2</text>
<g font-size="7" fill="#333">
<line x1="794" y1="766" x2="794" y2="882" stroke="#000"/><line x1="794" y1="882" x2="974" y2="882" stroke="#000"/>
<text x="790" y="776" text-anchor="end">100</text><text x="790" y="798" text-anchor="end">80</text><text x="790" y="819" text-anchor="end">60</text><text x="790" y="841" text-anchor="end">40</text><text x="790" y="862" text-anchor="end">20</text><text x="790" y="884" text-anchor="end">0</text>
<g text-anchor="middle"><text x="794" y="892">0</text><text x="809" y="892">7</text><text x="824" y="892">14</text><text x="839" y="892">21</text><text x="853" y="892">28</text><text x="868" y="892">35</text><text x="883" y="892">42</text><text x="898" y="892">49</text><text x="913" y="892">56</text><text x="928" y="892">63</text><text x="943" y="892">70</text><text x="957" y="892">77</text><text x="972" y="892">84</text></g>
<text x="883" y="905" text-anchor="middle" font-size="8">Time(Days)</text>
<text x="770" y="826" transform="rotate(-90 770 826)" text-anchor="middle" font-size="8">Percent survival</text>
<line x1="1038" y1="766" x2="1038" y2="880" stroke="#000"/><line x1="1038" y1="880" x2="1211" y2="880" stroke="#000"/>
<text x="1034" y="774" text-anchor="end">100</text><text x="1034" y="796" text-anchor="end">80</text><text x="1034" y="817" text-anchor="end">60</text><text x="1034" y="839" text-anchor="end">40</text><text x="1034" y="860" text-anchor="end">20</text><text x="1034" y="882" text-anchor="end">0</text>
<g text-anchor="middle"><text x="1038" y="890">0</text><text x="1052" y="890">7</text><text x="1067" y="890">14</text><text x="1081" y="890">21</text><text x="1095" y="890">28</text><text x="1109" y="890">35</text><text x="1123" y="890">42</text><text x="1138" y="890">49</text><text x="1152" y="890">56</text><text x="1166" y="890">63</text><text x="1180" y="890">70</text><text x="1195" y="890">77</text><text x="1209" y="890">84</text></g>
<text x="1123" y="903" text-anchor="middle" font-size="8">Time(Days)</text>
<text x="1015" y="824" transform="rotate(-90 1015 824)" text-anchor="middle" font-size="8">Percent survival</text>
<text x="838" y="873" fill="#e22" font-size="9">p=0.0054</text>
<text x="1068" y="870" fill="#e22" font-size="9">p=0.0273</text>
<text x="935" y="765" font-size="9">ex-circMAT2B</text><text x="935" y="773" font-size="9">ex-NC</text>
<text x="1192" y="763" font-size="9">si-circMAT2B</text><text x="1192" y="771" font-size="9">si-NC</text>
</g>
<line x1="917" y1="762" x2="931" y2="762" stroke="#e22" stroke-width="1.2"/><line x1="917" y1="770" x2="931" y2="770" stroke="#111" stroke-width="1.2"/>
<line x1="1169" y1="760" x2="1188" y2="760" stroke="#22e" stroke-width="1.2"/><line x1="1169" y1="768" x2="1188" y2="768" stroke="#111" stroke-width="1.2"/>
<g fill="none" stroke-width="1.2">
<path stroke="#e22" d="M794 774 H853 V785 H860 V796 H868 V806 H877 V817 H887 V828 H892 V839 H898 V850 H904 V860 H910 V871 H917 V882"/>
<path stroke="#111" d="M794 774 H875 V785 H879 V796 H890 V806 H919 V817 H923 V828 H934 V839 H942 V850 H972"/>
<path stroke="#22e" d="M1038 772 H1132 V783 H1138 V794 H1150 V804 H1174 V815 H1209"/>
<path stroke="#111" d="M1038 772 H1113 V783 H1117 V794 H1126 V804 H1138 V815 H1144 V826 H1156 V837 H1168 V848 H1180 V858 H1195 V869 H1209"/>
</g>
</svg>
</body></html>
